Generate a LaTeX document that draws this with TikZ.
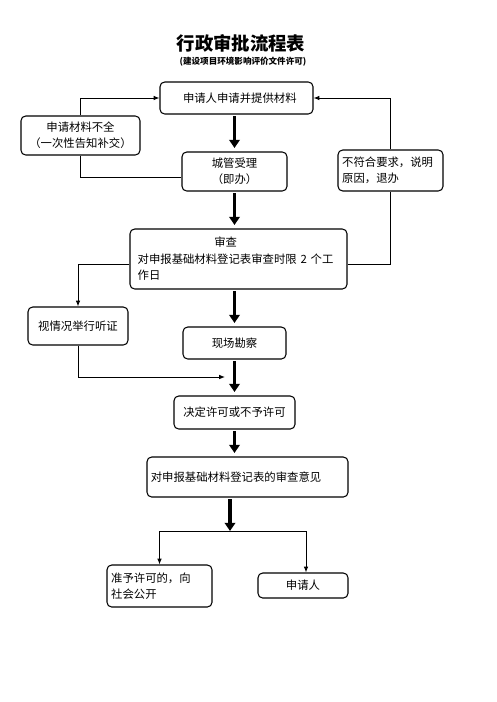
\documentclass[tikz,border=0pt]{standalone}
\usepackage{fontspec}
\newfontfamily\cjk{Noto Sans CJK SC}
\usetikzlibrary{arrows.meta}

\begin{document}
\begin{tikzpicture}[x=0.03cm, y=-0.03cm,
	box/.style={draw, rounded corners=4pt, line width=0.9pt, inner sep=2pt,
		font=\cjk\fontsize{9.7pt}{14pt}\selectfont},
	bigarrow/.style={line width=3.4pt, -{Triangle[width=9pt, length=7pt]},
		shorten <=1.5pt, shorten >=3pt},
	thinarrow/.style={line width=0.8pt, -{Latex[width=4pt, length=5pt]}},
	thinline/.style={line width=0.8pt}]

	\useasboundingbox (0, 0) rectangle (496, 702);

	% title
	\node[font=\cjk\bfseries\fontsize{15.7pt}{18pt}\selectfont] (title) at (241, 43) {行政审批流程表};
	\node[font=\cjk\bfseries\fontsize{7.3pt}{9pt}\selectfont] (subtitle) at (243, 62) {(建设项目环境影响评价文件许可)};

	% boxes
	\node[box, minimum width=4.59cm, minimum height=0.96cm] (apply) at (236.5, 98) {\hspace*{0.2cm}申请人申请并提供材料};
	\node[box, minimum width=3.57cm, minimum height=1.17cm, align=center] (incomplete) at (80.5, 135.5) {申请材料不全\\（一次性告知补交）};
	\node[box, minimum width=3.15cm, minimum height=1.17cm, align=center] (accept) at (234.5, 171.5) {城管受理\\（即办）};
	\node[box, minimum width=3.15cm, minimum height=1.23cm, text width=2.9cm, align=left] (reject) at (390.5, 170.5) {不符合要求，说明\\原因，退办};
	\node[box, minimum width=6.51cm, minimum height=1.8cm, text width=6.05cm, align=left] (review) at (238.5, 259) {\hspace*{2.3cm}审查\\对申报基础材料登记表审查时限 2 个工\\作日};
	\node[box, minimum width=3.0cm, minimum height=1.14cm] (hearing) at (78, 326) {视情况举行听证};
	\node[box, minimum width=3.09cm, minimum height=0.96cm] (survey) at (234.5, 343) {现场勘察};
	\node[box, minimum width=3.63cm, minimum height=0.99cm] (decide) at (234.5, 412.5) {决定许可或不予许可};
	\node[box, minimum width=6.03cm, minimum height=1.2cm, text width=5.8cm, align=left] (opinion) at (247.5, 477) {对申报基础材料登记表的审查意见};
	\node[box, minimum width=3.15cm, minimum height=1.26cm, text width=2.9cm, align=left] (publish) at (159.5, 586) {准予许可的，向\\社会公开};
	\node[box, minimum width=2.7cm, minimum height=0.75cm] (applicant) at (303, 585.5) {申请人};

	\coordinate (join) at (225, 377);
	\coordinate (split) at (230, 531);

	% thick arrows
	\draw[bigarrow] (accept.north |- apply.south) -- (accept.north);
	\draw[bigarrow] (accept.south) -- (accept.south |- review.north);
	\draw[bigarrow] (survey.north |- review.south) -- (survey.north);
	\draw[bigarrow] (survey.south) -- (survey.south |- decide.north);
	\draw[bigarrow] (decide.south) -- (decide.south |- opinion.north);
	\draw[bigarrow, shorten >=0pt] (split |- opinion.south) -- (split);

	% thin connectors
	\draw[thinarrow] (incomplete.north) |- (apply.west);
	\draw[thinline] (incomplete.south) |- (accept.186);
	\draw[thinarrow] (reject.north) |- (apply.east);
	\draw[thinline] (review.-3) -| (reject.south);
	\draw[thinarrow] (review.183) -| (hearing.north);
	\draw[thinarrow] (hearing.south) |- (join);
	\draw[thinarrow] (split) -| (publish.north);
	\draw[thinarrow] (split) -| ([xshift=0.09cm]applicant.north);
\end{tikzpicture}
\end{document}
